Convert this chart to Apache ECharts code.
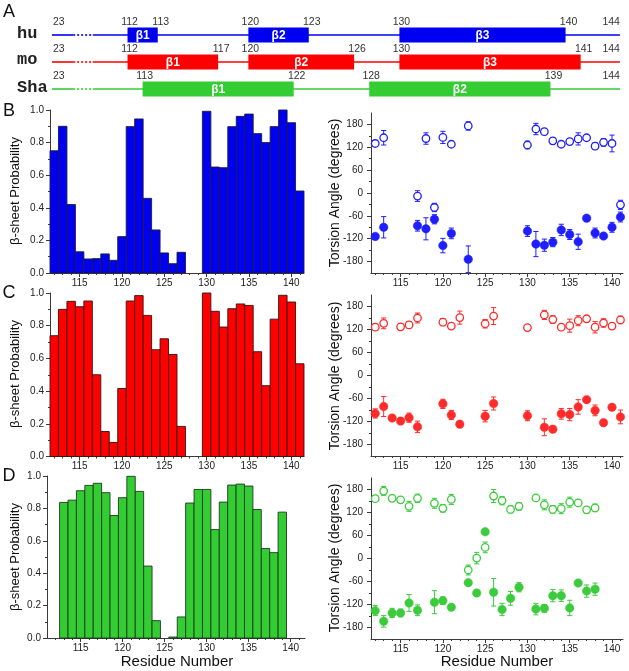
<!DOCTYPE html>
<html><head><meta charset="utf-8">
<script src="https://cdn.jsdelivr.net/npm/echarts@6/dist/echarts.min.js"></script>
<style>html,body{margin:0;padding:0;background:#fff}#c{width:629px;height:671px}</style>
</head><body><div id="c"></div>
<script>
// ---------- Panel A: secondary structure schematic ----------
const schemNames = ['hu', 'mo', 'Sha'];
const huBoxes = [[112, 113], [120, 123], [130, 140]];
const moBoxes = [[112, 117], [120, 126], [130, 141]];
const shaBoxes = [[113, 122], [128, 139]];
const seqFirst = '23', seqLast = '144';

// ---------- beta-sheet probability ----------
const resHu = [112,113,114,115,116,117,118,119,120,121,122,123,124,125,126,127,130,131,132,133,134,135,136,137,138,139,140,141];
const probHu = [0.75,0.90,0.42,0.13,0.086,0.088,0.117,0.078,0.223,0.898,0.945,0.458,0.264,0.123,0.057,0.127,0.992,0.65,0.646,0.898,0.961,0.975,0.855,0.80,0.898,1.0,0.922,0.503];
const resMo = [112,113,114,115,116,117,118,119,120,121,122,123,124,125,126,127,130,131,132,133,134,135,136,137,138,139,140,141];
const probMo = [0.739,0.90,0.949,0.916,0.951,0.50,0.153,0.086,0.416,0.951,0.984,0.863,0.653,0.72,0.624,0.184,1.0,0.888,0.792,0.904,0.933,0.924,0.641,0.433,0.84,0.986,0.945,0.567];
const resSha = [113,114,115,116,117,118,119,120,121,122,123,124,126,127,128,129,130,131,132,133,134,135,136,137,138,139];
const probSha = [0.837,0.851,0.909,0.942,0.955,0.897,0.756,0.866,0.998,0.905,0.444,0.107,0.006,0.13,0.833,0.917,0.917,0.669,0.839,0.944,0.95,0.938,0.793,0.552,0.527,0.777];

// ---------- torsion angles (open = psi, filled = phi) ----------
const torResHu = [112,113,117,118,119,120,121,123,130,131,132,133,134,135,136,137,138,139,140,141];
const psiHu = [130,145,-8,143,-38,146,128,176,126,168,161,137,128,135,142,145,123,133,130,-31];
const psiErrHu = [7,19,14,15,11,16,5,11,10,15,8,8,7,6,16,6,9,10,22,12];
const phiHu = [-114,-90,-86,-94,-69,-138,-106,-174,-100,-134,-137,-129,-97,-109,-128,-66,-105,-113,-90,-63];
const phiErrHu = [5,28,14,29,12,19,14,35,14,33,16,12,15,13,20,7,13,7,13,13];

const psiResMo = [112,113,115,116,117,120,121,122,125,126,130,132,133,134,135,136,137,138,139,140,141];
const psiMo = [126,136,127,132,150,139,129,151,135,155,125,158,146,126,130,143,148,126,137,129,145];
const psiErrMo = [8,14,7,8,13,9,5,17,11,22,5,12,10,6,17,13,6,15,11,7,10];
const phiResMo = [112,113,114,115,116,117,120,121,122,125,126,130,132,133,134,135,136,137,138,139,140,141];
const phiMo = [-99,-81,-111,-119,-110,-134,-74,-103,-127,-106,-73,-105,-135,-140,-100,-102,-82,-63,-91,-123,-83,-108];
const phiErrMo = [12,26,5,8,12,15,12,12,8,15,17,13,22,8,14,16,19,6,14,8,6,18];

const torResSha = [112,113,114,115,116,117,119,120,121,123,124,125,126,127,128,129,131,132,133,134,135,136,137,138];
const psiSha = [156,176,157,153,136,157,144,131,154,-30,1,29,163,151,128,136,158,140,128,130,147,145,127,132];
const psiErrSha = [6,12,8,6,13,11,13,10,13,13,15,14,17,11,9,10,6,13,10,13,13,7,8,10];
const phiSha = [-136,-164,-142,-142,-116,-135,-114,-110,-127,-63,-90,70,-88,-133,-104,-75,-132,-130,-97,-97,-129,-64,-85,-80];
const phiErrSha = [13,15,12,10,22,14,30,10,8,4,8,3,36,16,18,12,15,10,16,15,20,6,16,16];

// ---------- tick labels ----------
const xMajor = [115, 120, 125, 130, 135, 140];
const xMinor = [112,113,114,116,117,118,119,121,122,123,124,126,127,128,129,131,132,133,134,136,137,138,139,141];
const torMajor = [-180, -120, -60, 0, 60, 120, 180];
const torMinor = [-150, -90, -30, 30, 90, 150];

// ---------- styling ----------
const FONT = "'Liberation Sans', Arial, sans-serif";
const AX = '#3a3a3a';
const COL = { hu: '#0000F0', mo: '#FF0000', sha: '#33CC33' };
const TCOL = { hu: '#1E1EFF', mo: '#FF2A2A', sha: '#3CCB3C' };

const grid = [], xAxis = [], yAxis = [], series = [];

function addGrid(g) { grid.push(Object.assign({ containLabel: false }, g)); return grid.length - 1; }

function xAxes(gi, min, max) {
  xAxis.push({ gridIndex: gi, type: 'value', min, max, position: 'bottom',
    axisLine: { show: true, onZero: false, lineStyle: { color: AX, width: 1 } },
    axisTick: { show: true, customValues: xMajor, length: 4, lineStyle: { color: AX } },
    axisLabel: { show: true, customValues: xMajor, fontSize: 10, color: '#222', fontFamily: FONT, margin: 5 },
    splitLine: { show: false } });
  const xi = xAxis.length - 1;
  xAxis.push({ gridIndex: gi, type: 'value', min, max, position: 'bottom',
    axisLine: { show: false, onZero: false },
    axisTick: { show: true, customValues: xMinor, length: 2, lineStyle: { color: AX } },
    axisLabel: { show: false }, splitLine: { show: false } });
  return xi;
}

function probY(gi, min) {
  yAxis.push({ gridIndex: gi, type: 'value', min: 0, max: 1, interval: 0.2,
    axisLine: { show: true, onZero: false, lineStyle: { color: AX, width: 1 } },
    axisTick: { show: true, length: 4, lineStyle: { color: AX } },
    minorTick: { show: true, splitNumber: 2, length: 2, lineStyle: { color: AX } },
    axisLabel: { fontSize: 10, color: '#222', fontFamily: FONT, margin: 6, formatter: v => v.toFixed(1) },
    splitLine: { show: false }, minorSplitLine: { show: false } });
  return yAxis.length - 1;
}

function torY(gi) {
  yAxis.push({ gridIndex: gi, type: 'value', min: -210, max: 210,
    axisLine: { show: true, onZero: false, lineStyle: { color: AX, width: 1 } },
    axisTick: { show: true, customValues: torMajor, length: 4, lineStyle: { color: AX } },
    axisLabel: { customValues: torMajor, fontSize: 10, color: '#222', fontFamily: FONT, margin: 8 },
    splitLine: { show: false } });
  const yi = yAxis.length - 1;
  yAxis.push({ gridIndex: gi, type: 'value', min: -210, max: 210, position: 'left',
    axisLine: { show: false, onZero: false },
    axisTick: { show: true, customValues: torMinor, length: 2, lineStyle: { color: AX } },
    axisLabel: { show: false }, splitLine: { show: false } });
  return yi;
}

function barSeries(xi, yi, res, vals, color, stroke) {
  series.push({ type: 'custom', xAxisIndex: xi, yAxisIndex: yi, silent: true,
    data: res.map((r, i) => [r, vals[i]]),
    renderItem: (p, api) => {
      const x = api.value(0), v = api.value(1);
      const a = api.coord([x - 0.5, v]), b = api.coord([x + 0.5, 0]);
      return { type: 'rect', shape: { x: a[0], y: a[1], width: b[0] - a[0], height: b[1] - a[1] },
        style: { fill: color, stroke: stroke, lineWidth: 0.9 } };
    } });
}

function torSeries(xi, yi, res, vals, errs, color, open) {
  series.push({ type: 'custom', xAxisIndex: xi, yAxisIndex: yi, silent: true, z: 2,
    data: res.map((r, i) => [r, vals[i], errs[i]]),
    renderItem: (p, api) => {
      const x = api.value(0), v = api.value(1), e = api.value(2);
      const t = api.coord([x, v + e]), b = api.coord([x, v - e]);
      const cw = 2.6, st = { stroke: color, lineWidth: 1 };
      return { type: 'group', children: [
        { type: 'line', shape: { x1: t[0], y1: t[1], x2: b[0], y2: b[1] }, style: st },
        { type: 'line', shape: { x1: t[0] - cw, y1: t[1], x2: t[0] + cw, y2: t[1] }, style: st },
        { type: 'line', shape: { x1: b[0] - cw, y1: b[1], x2: b[0] + cw, y2: b[1] }, style: st } ] };
    } });
  series.push({ type: 'scatter', xAxisIndex: xi, yAxisIndex: yi, silent: true, z: 3,
    symbol: 'circle', symbolSize: open ? 7.5 : 8.5,
    data: res.map((r, i) => [r, vals[i]]),
    itemStyle: { color: open ? '#ffffff' : color, borderColor: color, borderWidth: open ? 1.3 : 0.5, opacity: 1 } });
}

// ---------- Panel A ----------
const gA = addGrid({ left: 52, width: 577, top: 35, height: 54 });
xAxis.push({ gridIndex: gA, type: 'value', min: 107, max: 145.2, show: false });
const xA = xAxis.length - 1;
yAxis.push({ gridIndex: gA, type: 'value', min: 0, max: 2, inverse: true, show: false });
const yA = yAxis.length - 1;
const schemCols = [COL.hu, COL.mo, COL.sha];
const seqLine = { start: 107, gapA: 108.4, gapB: 109.7, end: 144.6 };
series.push({ type: 'custom', xAxisIndex: xA, yAxisIndex: yA, silent: true, z: 1,
  data: schemNames.map((n, i) => [i]),
  renderItem: (p, api) => {
    const row = api.value(0), c = schemCols[row];
    const s = api.coord([seqLine.start, row]), ga = api.coord([seqLine.gapA, row]),
          gb = api.coord([seqLine.gapB, row]), e = api.coord([seqLine.end, row]);
    const st = { stroke: c, lineWidth: 1.6 };
    return { type: 'group', children: [
      { type: 'line', shape: { x1: s[0], y1: s[1], x2: ga[0], y2: ga[1] }, style: st },
      { type: 'line', shape: { x1: ga[0], y1: ga[1], x2: gb[0], y2: gb[1] }, style: { stroke: c, lineWidth: 1.6, lineDash: [2, 2] } },
      { type: 'line', shape: { x1: gb[0], y1: gb[1], x2: e[0], y2: e[1] }, style: st },
      { type: 'text', x: s[0] + 1, y: s[1] - 13, style: { text: seqFirst, fill: '#333', font: '10.5px ' + FONT, align: 'left', verticalAlign: 'middle' } },
      { type: 'text', x: e[0], y: e[1] - 13, style: { text: seqLast, fill: '#333', font: '10.5px ' + FONT, align: 'right', verticalAlign: 'middle' } } ] };
  } });
const boxData = [];
[huBoxes, moBoxes, shaBoxes].forEach((bx, row) => bx.forEach((b, k) => boxData.push([b[0], b[1], row, k + 1])));
series.push({ type: 'custom', xAxisIndex: xA, yAxisIndex: yA, silent: true, z: 2,
  data: boxData,
  renderItem: (p, api) => {
    const s = api.value(0), e = api.value(1), row = api.value(2), k = api.value(3);
    const a = api.coord([s, row]), b = api.coord([e + 1, row]);
    const h = 15, c = schemCols[row];
    return { type: 'group', children: [
      { type: 'rect', shape: { x: a[0], y: a[1] - h / 2, width: b[0] - a[0], height: h }, style: { fill: c } },
      { type: 'text', x: (a[0] + b[0]) / 2, y: a[1] + 0.5, style: { text: 'β' + k, fill: '#fff', font: 'bold 12px ' + FONT, align: 'center', verticalAlign: 'middle' } },
      { type: 'text', x: a[0] + 2, y: a[1] - 13, style: { text: String(s), fill: '#333', font: '10.5px ' + FONT, align: 'center', verticalAlign: 'middle' } },
      { type: 'text', x: b[0] + 3, y: b[1] - 13, style: { text: String(e), fill: '#333', font: '10.5px ' + FONT, align: 'center', verticalAlign: 'middle' } } ] };
  } });

// ---------- Bar panels ----------
const gB = addGrid({ left: 50, width: 254, top: 110, height: 163 });
let xi = xAxes(gB, 111.5, 141.5), yi = probY(gB);
barSeries(xi, yi, resHu, probHu, COL.hu, '#1b1b40');

const gBt = addGrid({ left: 371, width: 252, top: 113, height: 160 });
xi = xAxes(gBt, 111.5, 141.3); yi = torY(gBt);
torSeries(xi, yi, torResHu, psiHu, psiErrHu, TCOL.hu, true);
torSeries(xi, yi, torResHu, phiHu, phiErrHu, TCOL.hu, false);

const gC = addGrid({ left: 50, width: 254, top: 293, height: 163.5 });
xi = xAxes(gC, 111.5, 141.5); yi = probY(gC);
barSeries(xi, yi, resMo, probMo, COL.mo, '#3a1010');

const gCt = addGrid({ left: 371, width: 252, top: 295, height: 161 });
xi = xAxes(gCt, 111.5, 141.3); yi = torY(gCt);
torSeries(xi, yi, psiResMo, psiMo, psiErrMo, TCOL.mo, true);
torSeries(xi, yi, phiResMo, phiMo, phiErrMo, TCOL.mo, false);

const gD = addGrid({ left: 47, width: 258, top: 476, height: 162 });
xi = xAxes(gD, 111, 141.7); yi = probY(gD);
barSeries(xi, yi, resSha, probSha, COL.sha, '#1c3a1c');

const gDt = addGrid({ left: 371, width: 252, top: 478, height: 161 });
xi = xAxes(gDt, 111.5, 141.3); yi = torY(gDt);
torSeries(xi, yi, torResSha, psiSha, psiErrSha, TCOL.sha, true);
torSeries(xi, yi, torResSha, phiSha, phiErrSha, TCOL.sha, false);

// ---------- texts ----------
function txt(t, x, y, size, opts) {
  return Object.assign({ type: 'text', x, y, silent: true,
    style: { text: t, fill: '#111', font: size + 'px ' + FONT, align: 'center', verticalAlign: 'middle' } }, opts || {});
}
const yName1 = 'β-sheet Probability', yName2 = 'Torsion Angle (degrees)', xName = 'Residue Number';
const graphic = [
  txt('A', 9, 12, 18), txt('B', 9, 111, 18), txt('C', 9, 293, 18), txt('D', 9, 476, 18),
  txt(yName1, 15, 191, 13, { rotation: Math.PI / 2 }),
  txt(yName1, 15, 374, 13, { rotation: Math.PI / 2 }),
  txt(yName1, 15, 557, 13, { rotation: Math.PI / 2 }),
  txt(yName2, 335, 193, 14, { rotation: Math.PI / 2 }),
  txt(yName2, 335, 376, 14, { rotation: Math.PI / 2 }),
  txt(yName2, 335, 558, 14, { rotation: Math.PI / 2 }),
  txt(xName, 177, 662, 15), txt(xName, 497, 662, 15)
];
schemNames.forEach((n, i) => {
  graphic.push({ type: 'text', x: 17, y: [34, 60, 88][i], silent: true,
    style: { text: n, fill: '#222', font: 'bold 17px "Liberation Mono", "DejaVu Sans Mono", monospace', align: 'left', verticalAlign: 'middle' } });
});

const chart = echarts.init(document.getElementById('c'), null, { renderer: 'canvas' });
chart.setOption({ animation: false, backgroundColor: '#fff', grid, xAxis, yAxis, series, graphic });
</script>
</body></html>
